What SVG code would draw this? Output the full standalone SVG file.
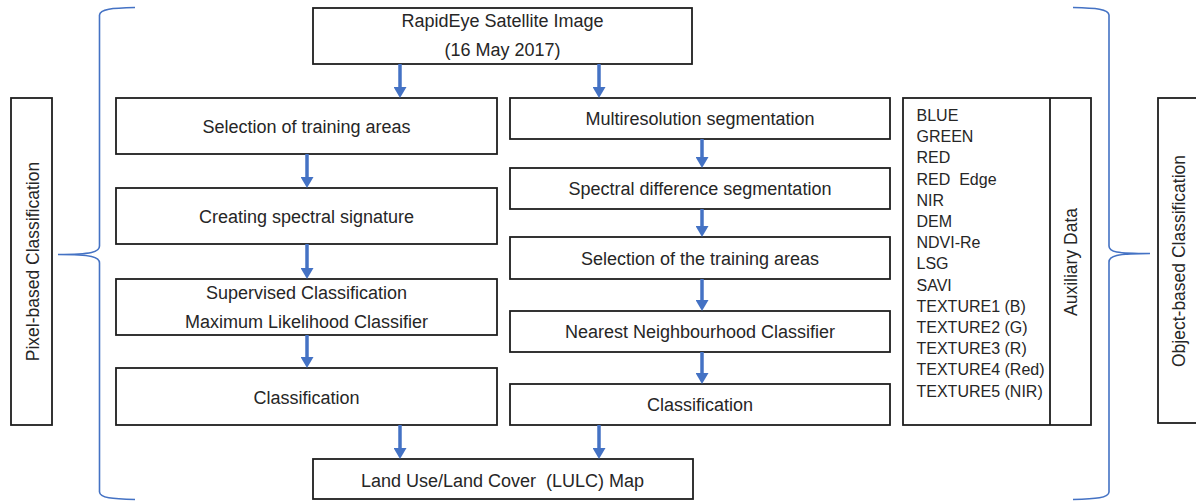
<svg xmlns="http://www.w3.org/2000/svg" width="1196" height="501" viewBox="0 0 1196 501">
<style>
.box{fill:#fff;stroke:#1e1e1e;stroke-width:1.8}
.t{font-family:"Liberation Sans",Arial,sans-serif;font-size:18px;fill:#262626;text-anchor:middle}
.aux{font-family:"Liberation Sans",Arial,sans-serif;font-size:16px;fill:#262626}
.v{font-family:"Liberation Sans",Arial,sans-serif;font-size:17.5px;fill:#262626;text-anchor:middle}
.brace{fill:none;stroke:#4472C4;stroke-width:1.6}
.arr{stroke:#4472C4;stroke-width:3.5;fill:none;marker-end:url(#ah)}
</style>
<defs>
<marker id="ah" markerUnits="userSpaceOnUse" viewBox="0 0 11 13" markerWidth="11" markerHeight="13" refX="2" refY="6.5" orient="auto">
<path d="M0,0 L11,6.5 L0,13 Z" fill="#4472C4"/>
</marker>
</defs>
<rect width="1196" height="501" fill="#fff"/>

<g id="braces">
<path class="brace" d="M135,7.5 C112,8 100,9 99.5,15 L99.5,246 C99.5,252 92,254.5 58,254.5 C92,254.5 99.5,257 99.5,263 L99.5,492 C100,498 112,499 135,499.5"/>
<path class="brace" d="M1073,7.5 C1096,8 1108.5,9 1109,15 L1109,246 C1109,252 1116,253.5 1150,253.5 C1116,253.5 1109,256 1109,262 L1109,492 C1108.5,498 1096,499 1073,499.5"/>
</g>

<g id="pixel-label">
<rect class="box" x="11" y="98" width="41" height="327"/>
<text class="v" transform="translate(38.5,261.5) rotate(-90)">Pixel-based Classification</text>
</g>
<g id="object-label">
<rect class="box" x="1158" y="98" width="42" height="325"/>
<text class="v" transform="translate(1185,261) rotate(-90)">Object-based Classification</text>
</g>

<g id="source">
<rect class="box" x="313" y="8" width="379" height="56"/>
<text class="t" x="502.5" y="27">RapidEye Satellite Image</text>
<text class="t" x="502.5" y="56">(16 May 2017)</text>
</g>

<g id="p1"><rect class="box" x="116" y="98" width="381" height="56"/><text class="t" x="306.5" y="132.5">Selection of training areas</text></g>
<g id="p2"><rect class="box" x="116" y="188" width="381" height="56"/><text class="t" x="306.5" y="222.5">Creating spectral signature</text></g>
<g id="p3"><rect class="box" x="116" y="279" width="381" height="56"/><text class="t" x="306.5" y="299">Supervised Classification</text><text class="t" x="306.5" y="328">Maximum Likelihood Classifier</text></g>
<g id="p4"><rect class="box" x="116" y="368" width="381" height="57"/><text class="t" x="306.5" y="403.5">Classification</text></g>

<g id="o1"><rect class="box" x="510" y="98" width="380" height="41"/><text class="t" x="700" y="124.5">Multiresolution segmentation</text></g>
<g id="o2"><rect class="box" x="510" y="168" width="380" height="41"/><text class="t" x="700" y="194.5">Spectral difference segmentation</text></g>
<g id="o3"><rect class="box" x="510" y="237" width="380" height="42"/><text class="t" x="700" y="265">Selection of the training areas</text></g>
<g id="o4"><rect class="box" x="510" y="311" width="380" height="41"/><text class="t" x="700" y="337.5">Nearest Neighbourhood Classifier</text></g>
<g id="o5"><rect class="box" x="510" y="384" width="380" height="41"/><text class="t" x="700" y="411">Classification</text></g>

<g id="auxiliary">
<rect class="box" x="903" y="98" width="188" height="327"/>
<line x1="1050" y1="98" x2="1050" y2="425" stroke="#1e1e1e" stroke-width="1.8"/>
<text class="aux" x="916.5" y="121">
<tspan x="916.5">BLUE</tspan>
<tspan x="916.5" dy="21.2">GREEN</tspan>
<tspan x="916.5" dy="21.2">RED</tspan>
<tspan x="916.5" dy="21.2">RED&#160; Edge</tspan>
<tspan x="916.5" dy="21.2">NIR</tspan>
<tspan x="916.5" dy="21.2">DEM</tspan>
<tspan x="916.5" dy="21.2">NDVI-Re</tspan>
<tspan x="916.5" dy="21.2">LSG</tspan>
<tspan x="916.5" dy="21.2">SAVI</tspan>
<tspan x="916.5" dy="21.2">TEXTURE1 (B)</tspan>
<tspan x="916.5" dy="21.2">TEXTURE2 (G)</tspan>
<tspan x="916.5" dy="21.2">TEXTURE3 (R)</tspan>
<tspan x="916.5" dy="21.2">TEXTURE4 (Red)</tspan>
<tspan x="916.5" dy="21.2">TEXTURE5 (NIR)</tspan>
</text>
<text class="v" transform="translate(1076.5,262) rotate(-90)">Auxiliary Data</text>
</g>

<g id="result">
<rect class="box" x="313" y="459" width="380" height="40"/>
<text class="t" x="502.5" y="486.5">Land Use/Land Cover&#160; (LULC) Map</text>
</g>

<g id="connectors">
<line class="arr" x1="400" y1="64" x2="400" y2="89"/>
<line class="arr" x1="599" y1="64" x2="599" y2="89"/>
<line class="arr" x1="307" y1="154" x2="307" y2="179"/>
<line class="arr" x1="307" y1="244" x2="307" y2="270"/>
<line class="arr" x1="307" y1="335" x2="307" y2="359"/>
<line class="arr" x1="702" y1="139" x2="702" y2="159"/>
<line class="arr" x1="702" y1="209" x2="702" y2="228"/>
<line class="arr" x1="702" y1="279" x2="702" y2="302"/>
<line class="arr" x1="702" y1="352" x2="702" y2="375"/>
<line class="arr" x1="400" y1="425" x2="400" y2="450"/>
<line class="arr" x1="599" y1="425" x2="599" y2="450"/>
</g>
</svg>
